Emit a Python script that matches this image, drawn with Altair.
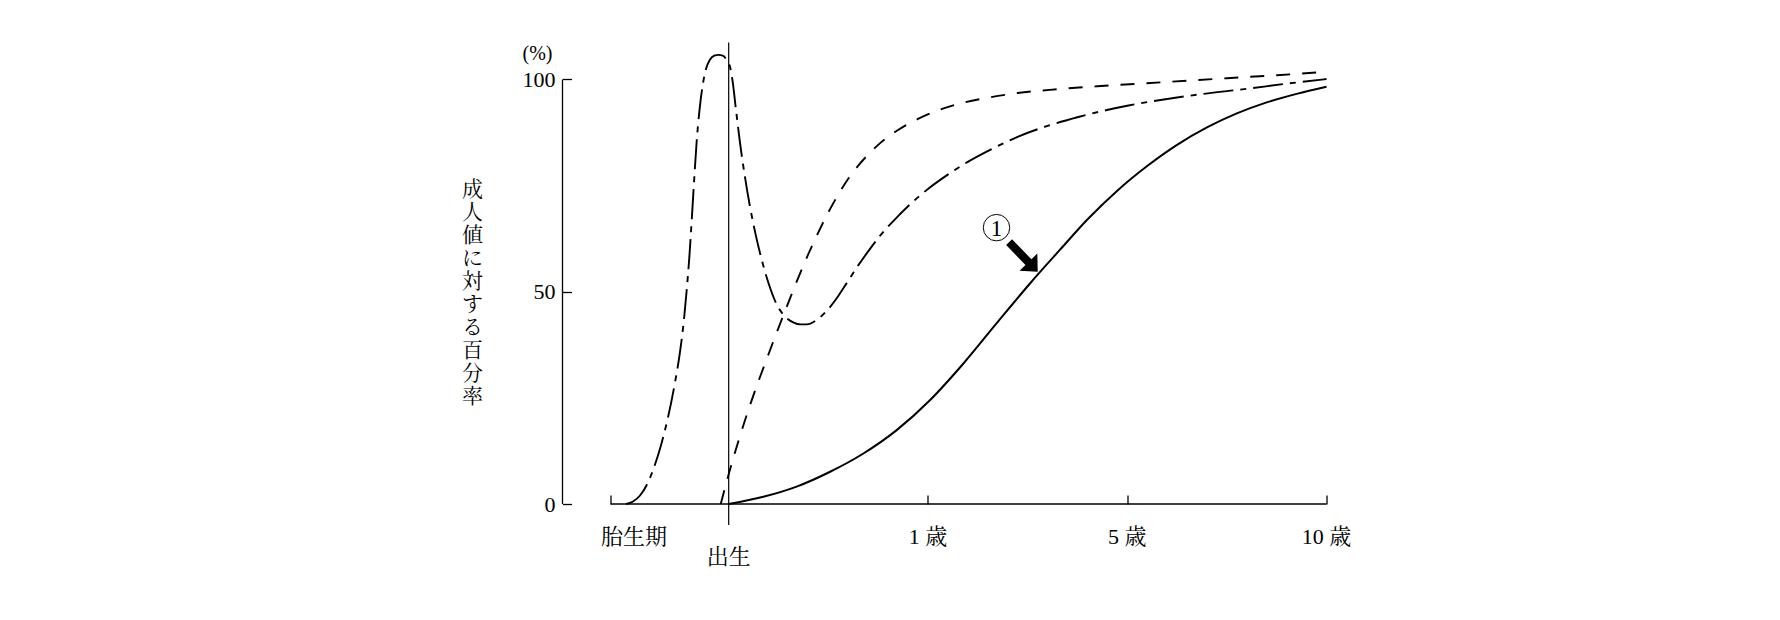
import altair as alt
import pandas as pd

# ---------------- data (x: 0 = 出生, 1 = 1歳, 2 = 5歳, 3 = 10歳) ----------------
solid_x = [0, 0.174, 0.341, 0.509, 0.676, 0.843, 1.011, 1.178, 1.345, 1.513, 1.663,
           1.8, 1.95, 2.1, 2.25, 2.4, 2.55, 2.7, 2.85, 3.0]
solid_y = [0, 1.7, 4.1, 7.6, 11.9, 17.4, 24.5, 33.1, 42.6, 52.0, 59.9,
           67.0, 73.8, 79.6, 84.6, 88.7, 92.0, 94.6, 96.6, 98.3]

dashed_x = [-0.04, 0.0, 0.05, 0.1, 0.15, 0.2, 0.25, 0.3, 0.35, 0.4, 0.45, 0.5, 0.55,
            0.6, 0.65, 0.7, 0.76, 0.85, 0.95, 1.05, 1.15, 1.3, 1.45, 1.65, 1.85, 2.2,
            2.5, 2.75, 3.0]
dashed_y = [0, 7.0, 15.0, 22.3, 29.0, 35.3, 41.5, 47.5, 53.4, 58.9, 64.0, 68.7, 72.9,
            76.6, 79.7, 82.3, 85.0, 88.1, 90.7, 92.7, 94.2, 95.7, 96.8, 97.7, 98.4, 99.4,
            100.3, 101.0, 101.8]

dashdot_x = [-0.515, -0.48, -0.445, -0.41, -0.375, -0.34, -0.305, -0.27, -0.245, -0.225,
             -0.21, -0.198, -0.186, -0.174, -0.161, -0.146, -0.13, -0.115, -0.095, -0.072,
             -0.052, -0.03, -0.01, 0.0065, 0.02, 0.035, 0.057, 0.08, 0.107, 0.135, 0.166,
             0.2, 0.241, 0.28, 0.324, 0.36, 0.392, 0.44, 0.492, 0.55, 0.6, 0.65, 0.7, 0.76,
             0.85, 0.927, 1.0, 1.094, 1.2, 1.345, 1.45, 1.596, 1.75, 1.898, 2.0, 2.2, 2.366,
             2.6, 2.8, 3.0]
dashdot_y = [0, 0.6, 2.0, 4.6, 8.6, 13.8, 20.3, 28.5, 35.6, 43.2,
             50.8, 57.8, 66.5, 75.8, 85.2, 93.0, 98.8, 102.3, 104.6, 105.6,
             105.8, 105.6, 104.6, 103.0, 99.5, 93.5, 85.0, 77.5, 70.0, 63.5, 57.5,
             52.0, 47.0, 44.3, 42.8, 42.3, 42.3, 43.3, 45.5, 49.0, 52.6, 56.2, 59.5, 63.2,
             67.8, 71.3, 74.2, 77.4, 80.6, 84.2, 86.5, 89.0, 91.1, 92.8, 93.8, 95.4, 96.5,
             97.8, 99.0, 100.1]

x_tick_values = [-0.592, 1, 2, 3]
x_label_pos = [-0.475, 1, 2, 3]
x_labels = ["胎生期", "1 歳", "5 歳", "10 歳"]
birth_label = ["出生"]
y_tick_values = [0, 50, 100]
y_title = "成人値に対する百分率"
unit_label = "(%)"
marker_label = "1"
marker_pos = [1.344, 65.1]
arrow_pos = [1.479, 58.2]

# ---------------- layout ----------------
X_MIN, X_MAX = -0.834, 3.0
Y_MIN, Y_MAX = 0, 110
W, H = 764, 467
PX_X = W / (X_MAX - X_MIN)
PX_Y = H / (Y_MAX - Y_MIN)

FONT = "Liberation Serif, Noto Serif CJK JP, Noto Sans CJK JP"
CJK = "Noto Serif CJK JP, Noto Sans CJK JP"

xs = alt.Scale(domain=[X_MIN, X_MAX], nice=False, zero=False)
ys = alt.Scale(domain=[Y_MIN, Y_MAX], nice=False, zero=False)

x_axis = alt.Axis(values=x_tick_values, labels=False, domain=False, grid=False,
                  tickSize=9, tickWidth=1.3, tickColor="black", offset=-9, title=None)
y_axis = alt.Axis(values=y_tick_values, domain=False, grid=False, tickSize=9,
                  tickWidth=1.3, tickColor="black", offset=-9, labelPadding=7.5,
                  labelFont=FONT, labelFontSize=22, labelColor="black", title=None)


def X(f):
    return alt.X(f, type="quantitative", scale=xs, axis=x_axis)


def Y(f):
    return alt.Y(f, type="quantitative", scale=ys, axis=y_axis)


def line(xv, yv, **kw):
    df = pd.DataFrame({"x": xv, "y": yv})
    return alt.Chart(df).mark_line(color="black", interpolate="monotone", **kw).encode(
        x=X("x"), y=Y("y"))


solid = line(solid_x, solid_y, strokeWidth=2)
dashed = line(dashed_x, dashed_y, strokeWidth=1.9, strokeDash=[14, 12])
dashdot = line(dashdot_x, dashdot_y, strokeWidth=1.9, strokeDash=[30, 7, 6, 7])

# axis lines
y_line = alt.Chart(pd.DataFrame({"x": [X_MIN], "y": [0], "y2": [100]})).mark_rule(
    color="black", strokeWidth=1.3).encode(x=X("x"), y=Y("y"), y2=alt.Y2("y2"))
x_line = alt.Chart(pd.DataFrame({"x": [x_tick_values[0]], "x2": [X_MAX], "y": [0]})).mark_rule(
    color="black", strokeWidth=1.3).encode(x=X("x"), x2=alt.X2("x2"), y=Y("y"))
birth_line = alt.Chart(pd.DataFrame({"x": [0], "y": [-21 / PX_Y], "y2": [108.7]})).mark_rule(
    color="black", strokeWidth=1.2).encode(x=X("x"), y=Y("y"), y2=alt.Y2("y2"))

# x labels
xl_df = pd.DataFrame({"x": x_label_pos, "y": [-33 / PX_Y] * len(x_labels), "t": x_labels})
x_text = alt.Chart(xl_df).mark_text(font=FONT, fontSize=22, color="black",
                                    align="center", baseline="middle").encode(
    x=X("x"), y=Y("y"), text="t:N")
bl_df = pd.DataFrame({"x": [0], "y": [-52.7 / PX_Y], "t": birth_label})
birth_text = alt.Chart(bl_df).mark_text(font=CJK, fontSize=22, color="black",
                                        align="center", baseline="middle").encode(
    x=X("x"), y=Y("y"), text="t:N")

# y title (vertical, upright characters; y = centre of the first character)
yt_df = pd.DataFrame({"x": [X_MIN - 90 / PX_X], "y": [74.0], "t": ["\n".join(y_title)]})
y_text = alt.Chart(yt_df).mark_text(font=CJK, fontSize=21, lineHeight=23, lineBreak="\n",
                                    color="black", align="center", baseline="middle").encode(
    x=X("x"), y=Y("y"), text="t:N")
unit_df = pd.DataFrame({"x": [X_MIN - 25 / PX_X], "y": [106.0], "t": [unit_label]})
unit_text = alt.Chart(unit_df).mark_text(font=FONT, fontSize=20, color="black",
                                         align="center", baseline="middle").encode(
    x=X("x"), y=Y("y"), text="t:N")

# circled marker and arrow
mk_df = pd.DataFrame({"x": [marker_pos[0]], "y": [marker_pos[1]], "t": [marker_label]})
circle = alt.Chart(mk_df).mark_point(shape="circle", size=700, filled=False, color="black",
                                     strokeWidth=1, opacity=1).encode(x=X("x"), y=Y("y"))
circle_text = alt.Chart(mk_df).mark_text(font=FONT, fontSize=23, color="black",
                                         align="center", baseline="middle", dy=1).encode(
    x=X("x"), y=Y("y"), text="t:N")
ARROW = "M -1 -0.2 L 0.35 -0.2 L 0.35 -0.6 L 1 0 L 0.35 0.6 L 0.35 0.2 L -1 0.2 Z"
ar_df = pd.DataFrame({"x": [arrow_pos[0]], "y": [arrow_pos[1]]})
arrow = alt.Chart(ar_df).mark_point(shape=ARROW, size=1700, filled=True, color="black",
                                    opacity=1, angle=46, strokeWidth=0).encode(
    x=X("x"), y=Y("y"))

chart = alt.layer(
    y_line, x_line, birth_line, dashdot, dashed, solid,
    x_text, birth_text, y_text, unit_text, circle, circle_text, arrow
).properties(
    width=W, height=H,
    padding={"left": 554.5, "top": 29, "right": 60, "bottom": 80},
    autosize=alt.AutoSizeParams(type="none"),
    background="white",
).configure_view(stroke=None)

chart.save("out.html", embed_options={"renderer": "svg", "actions": False})
